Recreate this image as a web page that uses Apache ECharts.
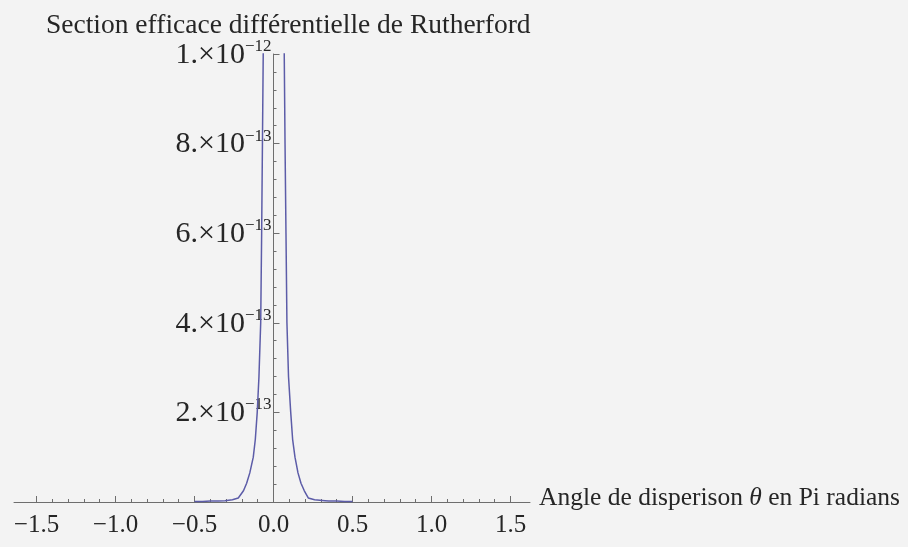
<!DOCTYPE html>
<html><head><meta charset="utf-8">
<script src="https://cdn.jsdelivr.net/npm/echarts@6/dist/echarts.min.js"></script>
<style>html,body{margin:0;padding:0;background:#f3f3f3}#c{width:908px;height:547px}</style>
</head><body><div id="c"></div>
<script>
// x ticks (theta in units of pi)
const xTicks = [-1.5, -1, -0.5, 0, 0.5, 1, 1.5];
const xTickLabels = ['−1.5', '−1.0', '−0.5', '0.0', '0.5', '1.0', '1.5'];
// y ticks in units of 1e-13
const yTicks = [2, 4, 6, 8, 10];
const yTickMantissa = ['2.', '4.', '6.', '8.', '1.'];
const yTickExponent = ['−13', '−13', '−13', '−13', '−12'];
// curve: scattering angle (units of pi) and cross-section (units of 1e-13), null = off-scale gap
const theta = [-0.50, -0.45, -0.40, -0.35, -0.307, -0.26, -0.223, -0.19, -0.17, -0.15, -0.128, -0.115, -0.103, -0.092, -0.081, -0.075, -0.070, -0.065, -0.058,
  0,
  0.060, 0.068, 0.073, 0.079, 0.085, 0.095, 0.109, 0.121, 0.136, 0.155, 0.174, 0.195, 0.220, 0.26, 0.326, 0.35, 0.40, 0.45, 0.50];
const sigma = [0.01, 0.01, 0.02, 0.02, 0.03, 0.05, 0.09, 0.25, 0.42, 0.65, 1.0, 1.4, 2.0, 2.8, 4.0, 6.0, 8.0, 10.0, 14.0,
  null,
  14.0, 10.0, 8.0, 6.0, 4.0, 2.8, 2.0, 1.4, 1.0, 0.65, 0.42, 0.25, 0.09, 0.05, 0.03, 0.02, 0.02, 0.01, 0.01];

const serif = 'Liberation Serif';
const txt = '#262626';
const axisCol = '#6e6e6e';

const chart = echarts.init(document.getElementById('c'));
chart.setOption({
  backgroundColor: '#f3f3f3',
  animation: false,
  title: {
    text: 'Section efficace différentielle de Rutherford',
    left: 41, top: 7,
    textStyle: {fontFamily: serif, fontWeight: 'normal', fontSize: 27.5, color: txt}
  },
  grid: [
    {left: 36.5, right: 397.5, top: 54, bottom: 45, outerBoundsMode: 'none'},
    {left: 14, right: 378, top: 54, bottom: 45, outerBoundsMode: 'none'},
    {left: 273.5, right: 378, top: 54, bottom: 45, outerBoundsMode: 'none'}
  ],
  xAxis: [
    {
      type: 'value', gridIndex: 0, min: -1.5, max: 1.5, interval: 0.5,
      axisLine: {show: true, onZero: true, lineStyle: {color: axisCol, width: 1}},
      axisTick: {show: true, inside: true, length: 6, lineStyle: {color: axisCol}},
      minorTick: {show: true, splitNumber: 5, length: 3, lineStyle: {color: axisCol}},
      splitLine: {show: false},
      axisLabel: {
        margin: 11, fontFamily: serif, fontSize: 25, color: txt,
        formatter: v => { const i = xTicks.findIndex(t => Math.abs(t - v) < 1e-6); return i >= 0 ? xTickLabels[i] : ''; }
      }
    },
    {
      type: 'value', gridIndex: 1, min: -1.64, max: 1.63,
      axisLine: {show: true, lineStyle: {color: axisCol, width: 1}},
      axisTick: {show: false}, axisLabel: {show: false}, splitLine: {show: false},
      name: '{a|Angle de disperison }{t|θ}{a| en Pi radians}',
      nameLocation: 'end', nameGap: 9,
      nameTextStyle: {
        padding: [0, 0, 8, 0],
        rich: {
          a: {fontFamily: serif, fontSize: 25.5, color: txt},
          t: {fontFamily: serif, fontSize: 25.5, fontStyle: 'italic', color: txt}
        }
      }
    },
    {type: 'value', gridIndex: 2, min: 0, max: 1, show: false}
  ],
  yAxis: [
    {type: 'value', gridIndex: 0, min: 0, max: 10, show: false},
    {type: 'value', gridIndex: 1, min: 0, max: 10, show: false},
    {
      type: 'value', gridIndex: 2, min: 0, max: 10, interval: 2, position: 'left',
      axisLine: {show: true, onZero: false, lineStyle: {color: axisCol, width: 1}},
      axisTick: {show: true, inside: true, length: 6, lineStyle: {color: axisCol}},
      minorTick: {show: true, splitNumber: 5, length: 3, lineStyle: {color: axisCol}},
      splitLine: {show: false},
      axisLabel: {
        margin: 2,
        formatter: v => {
          const i = yTicks.findIndex(t => Math.abs(t - v) < 1e-6);
          if (i < 0) return '';
          return '{m|' + yTickMantissa[i] + '×10}{e|' + yTickExponent[i] + '}';
        },
        rich: {
          m: {fontFamily: serif, fontSize: 30, color: txt, lineHeight: 32, verticalAlign: 'bottom'},
          e: {fontFamily: serif, fontSize: 17, color: txt, lineHeight: 32, verticalAlign: 'top'}
        }
      }
    }
  ],
  series: [{
    type: 'line', xAxisIndex: 0, yAxisIndex: 0,
    data: theta.map((t, i) => [t, sigma[i] === null ? '-' : sigma[i]]),
    showSymbol: false, connectNulls: false, clip: true,
    lineStyle: {color: '#5c5ca8', width: 1.5}
  }]
});
</script></body></html>
